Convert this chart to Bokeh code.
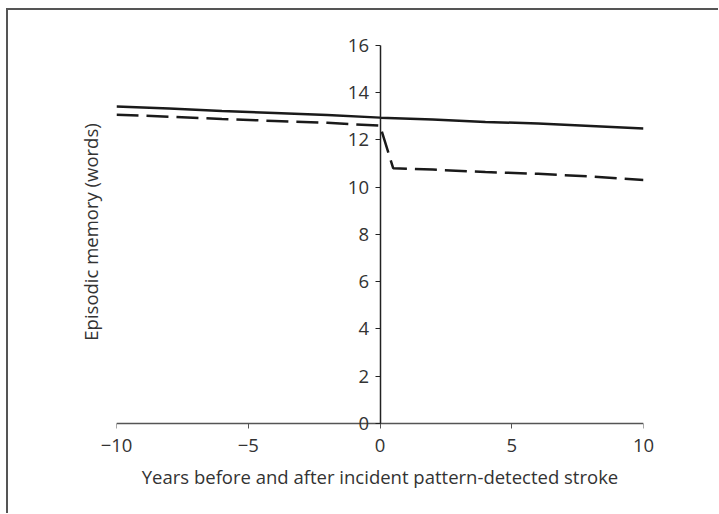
from bokeh.plotting import figure
from bokeh.models import LinearAxis, FixedTicker, Range1d
from bokeh.embed import file_html
from bokeh.resources import INLINE

# Data
years_nostroke = [-10, -8, -6, -4, -2, 0, 2, 4, 6, 8, 10]
memory_nostroke = [13.41, 13.33, 13.22, 13.14, 13.05, 12.94, 12.86, 12.76, 12.69, 12.59, 12.48]

years_stroke = [-10, -8, -6, -4, -2, 0, 0.5, 2, 4, 6, 8, 10]
memory_stroke = [13.06, 12.98, 12.88, 12.8, 12.72, 12.6, 10.8, 10.74, 10.64, 10.56, 10.45, 10.3]

x_ticks = [-10, -5, 0, 5, 10]
x_tick_labels = {-10: "\u221210", -5: "\u22125", 0: "0", 5: "5", 10: "10"}
y_ticks = [0, 2, 4, 6, 8, 10, 12, 14, 16]

FONT = "Open Sans"
FS = "18.5px"
TXT = "#333333"

p = figure(
    output_backend="svg", toolbar_location=None,
    frame_width=527, frame_height=397,
    min_border_left=108, min_border_right=75, min_border_top=23, min_border_bottom=83,
    x_range=Range1d(-10, 10), y_range=Range1d(-0.3, 16.5),
    x_axis_type=None, y_axis_type=None,
    styles={"margin": "8px 0 0 6px",
            "border-top": "2px solid #555555", "border-left": "2px solid #555555"},
)
p.outline_line_color = None
p.xgrid.visible = False
p.ygrid.visible = False

# x axis line with ticks (as minor ticks, so no labels), drawn at y = 0
xa = LinearAxis(ticker=FixedTicker(ticks=[], minor_ticks=x_ticks), fixed_location=0, bounds=(-10, 10))
xa.axis_line_color = "#555555"
xa.axis_line_width = 1.5
xa.major_tick_line_color = None
xa.minor_tick_line_color = "#555555"
xa.minor_tick_line_width = 1
xa.minor_tick_in = 0
xa.minor_tick_out = 5
p.add_layout(xa, "below")

# x tick labels and title, below the frame
xl = LinearAxis(ticker=FixedTicker(ticks=x_ticks), major_label_overrides=x_tick_labels)
xl.axis_line_color = None
xl.major_tick_line_color = None
xl.major_tick_in = 0
xl.major_tick_out = 0
xl.minor_tick_line_color = None
xl.major_label_text_font = FONT
xl.major_label_text_font_size = FS
xl.major_label_text_color = TXT
xl.major_label_standoff = 8
xl.axis_label = "Years before and after incident pattern-detected stroke"
xl.axis_label_text_font = FONT
xl.axis_label_text_font_size = FS
xl.axis_label_text_font_style = "normal"
xl.axis_label_text_color = TXT
xl.axis_label_standoff = 9
p.add_layout(xl, "below")

# y axis drawn at x = 0
ya = LinearAxis(ticker=FixedTicker(ticks=y_ticks), fixed_location=0, bounds=(0, 16))
ya.axis_line_color = "#222222"
ya.axis_line_width = 1.5
ya.major_tick_line_color = "#222222"
ya.major_tick_in = 0
ya.major_tick_out = 5
ya.minor_tick_line_color = None
ya.major_label_text_font = FONT
ya.major_label_text_font_size = FS
ya.major_label_text_color = TXT
ya.major_label_standoff = 6
p.add_layout(ya, "left")

# y axis title only, at the frame's left
yl = LinearAxis(ticker=FixedTicker(ticks=[]))
yl.axis_line_color = None
yl.major_tick_line_color = None
yl.minor_tick_line_color = None
yl.axis_label = "Episodic memory (words)"
yl.axis_label_text_font = FONT
yl.axis_label_text_font_size = FS
yl.axis_label_text_font_style = "normal"
yl.axis_label_text_color = TXT
yl.axis_label_standoff = 14
p.add_layout(yl, "left")

p.line(years_nostroke, memory_nostroke, line_color="#1a1a1a", line_width=2.5)
p.line(years_stroke, memory_stroke, line_color="#1a1a1a", line_width=2.5, line_dash="22 8")

open("out.html", "w").write(file_html(p, INLINE))
